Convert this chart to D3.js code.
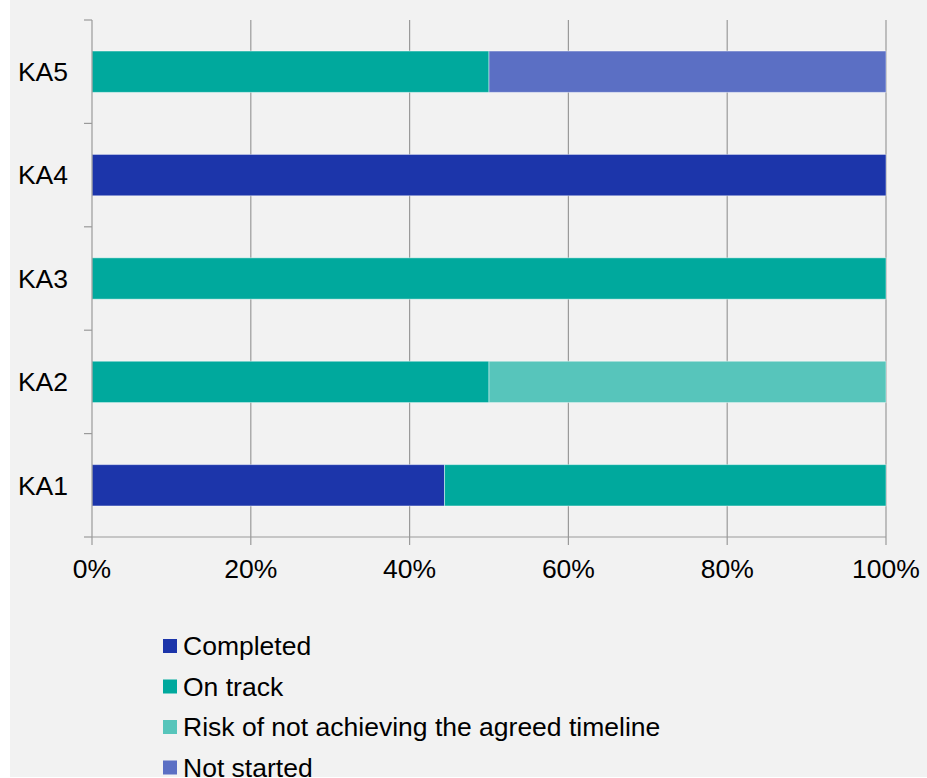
<!DOCTYPE html>
<html>
<head>
<meta charset="utf-8">
<script src="https://cdn.jsdelivr.net/npm/d3@7"></script>
<style>
  html, body { margin: 0; padding: 0; background: #ffffff; }
  svg { display: block; font-family: "Liberation Sans", Arial, sans-serif; }
</style>
</head>
<body>
<svg id="chart"></svg>
<script>
// chart data (percent of actions per key area)
var categories = ['KA1', 'KA2', 'KA3', 'KA4', 'KA5'];
var seriesNames = ['Completed', 'On track', 'Risk of not achieving the agreed timeline', 'Not started'];
var completed  = [44.4, 0, 0, 100, 0];
var onTrack    = [55.6, 50, 100, 0, 50];
var risk       = [0, 50, 0, 0, 0];
var notStarted = [0, 0, 0, 0, 50];
var xTicks = [0, 20, 40, 60, 80, 100];

var colors = ['#1c35aa', '#00a99d', '#57c5bb', '#5b6fc4'];

var width = 927, height = 778;
var plotLeft = 92, plotRight = 886, plotTop = 20, plotBottom = 537;
var fontSize = 26.5;

var svg = d3.select('#chart')
  .attr('width', width)
  .attr('height', height);

svg.append('rect')
  .attr('x', 10).attr('y', 0)
  .attr('width', width - 10).attr('height', height - 1)
  .attr('fill', '#f2f2f2');

// build rows for the stack
var table = categories.map(function (c, i) {
  return {
    cat: c,
    'Completed': completed[i],
    'On track': onTrack[i],
    'Risk of not achieving the agreed timeline': risk[i],
    'Not started': notStarted[i]
  };
});
var stacked = d3.stack().keys(seriesNames)(table);

var scaleX = d3.scaleLinear().domain([0, 100]).range([plotLeft, plotRight]);
var scaleY = d3.scaleBand()
  .domain(categories.slice().reverse())
  .range([plotTop, plotBottom])
  .paddingInner(0.6)
  .paddingOuter(0.3);

// vertical gridlines
svg.append('g')
  .selectAll('line')
  .data(xTicks.slice(1))
  .enter()
  .append('line')
  .attr('x1', function (d) { return scaleX(d); })
  .attr('x2', function (d) { return scaleX(d); })
  .attr('y1', plotTop).attr('y2', plotBottom)
  .attr('stroke', '#9a9a9a')
  .attr('stroke-width', 1.2);

// bars
svg.append('g')
  .selectAll('g')
  .data(stacked)
  .enter()
  .append('g')
  .attr('fill', function (d, i) { return colors[i]; })
  .selectAll('rect')
  .data(function (d) { return d.filter(function (p) { return p[1] - p[0] > 0; }); })
  .enter()
  .append('rect')
  .attr('x', function (d) { return scaleX(d[0]); })
  .attr('width', function (d) { return scaleX(d[1]) - scaleX(d[0]); })
  .attr('y', function (d) { return scaleY(d.data.cat); })
  .attr('height', scaleY.bandwidth())
  .attr('stroke', 'rgba(255,255,255,0.45)')
  .attr('stroke-width', 1);

// axes
var step = scaleY.step();
var yAxis = svg.append('g');
yAxis.append('line')
  .attr('x1', plotLeft).attr('x2', plotLeft)
  .attr('y1', plotTop).attr('y2', plotBottom)
  .attr('stroke', '#9a9a9a').attr('stroke-width', 1.2);
yAxis.selectAll('.ytick')
  .data(d3.range(categories.length + 1))
  .enter()
  .append('line')
  .attr('x1', plotLeft - 8).attr('x2', plotLeft)
  .attr('y1', function (i) { return plotTop + i * step; })
  .attr('y2', function (i) { return plotTop + i * step; })
  .attr('stroke', '#9a9a9a').attr('stroke-width', 1.2);
yAxis.selectAll('text')
  .data(categories)
  .enter()
  .append('text')
  .attr('x', 68)
  .attr('y', function (d) { return scaleY(d) + scaleY.bandwidth() / 2; })
  .attr('dy', '0.35em')
  .attr('text-anchor', 'end')
  .attr('font-size', fontSize)
  .attr('fill', '#000')
  .text(function (d) { return d; });

var xAxis = svg.append('g');
xAxis.append('line')
  .attr('x1', plotLeft).attr('x2', plotRight)
  .attr('y1', plotBottom).attr('y2', plotBottom)
  .attr('stroke', '#9a9a9a').attr('stroke-width', 1.2);
xAxis.selectAll('.xtick')
  .data(xTicks)
  .enter()
  .append('line')
  .attr('x1', function (d) { return scaleX(d); })
  .attr('x2', function (d) { return scaleX(d); })
  .attr('y1', plotBottom).attr('y2', plotBottom + 8)
  .attr('stroke', '#9a9a9a').attr('stroke-width', 1.2);
xAxis.selectAll('text')
  .data(xTicks)
  .enter()
  .append('text')
  .attr('x', function (d) { return scaleX(d); })
  .attr('y', 578)
  .attr('text-anchor', 'middle')
  .attr('font-size', fontSize)
  .attr('fill', '#000')
  .text(function (d) { return d + '%'; });

// legend
var legend = svg.append('g')
  .selectAll('g')
  .data(seriesNames)
  .enter()
  .append('g')
  .attr('transform', function (d, i) { return 'translate(163,' + (646 + i * 40.5) + ')'; });
legend.append('rect')
  .attr('x', 0).attr('y', -7)
  .attr('width', 14).attr('height', 14)
  .attr('fill', function (d, i) { return colors[i]; });
legend.append('text')
  .attr('x', 20)
  .attr('y', 0)
  .attr('dy', '0.35em')
  .attr('font-size', fontSize)
  .attr('fill', '#000')
  .text(function (d) { return d; });
</script>
</body>
</html>
